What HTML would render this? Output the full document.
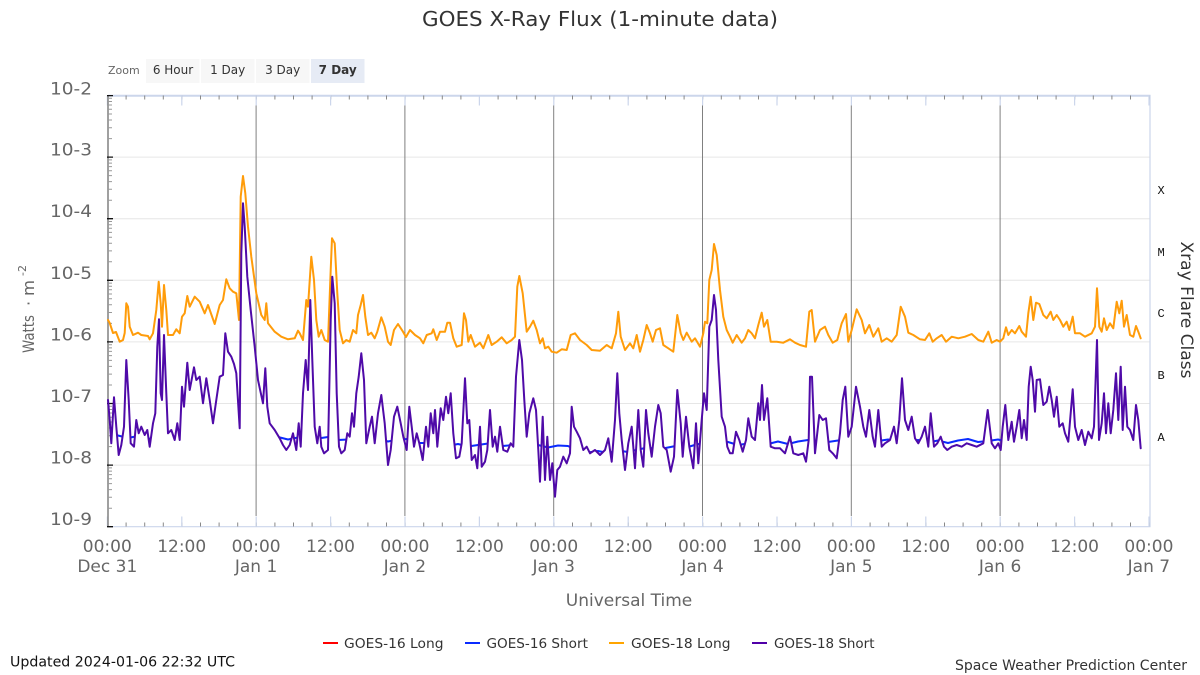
<!DOCTYPE html>
<html><head><meta charset="utf-8"><style>
html,body{margin:0;padding:0;background:#fff;}
svg{display:block;font-family:"DejaVu Sans","Liberation Sans",sans-serif;}
</style></head><body>
<svg width="1200" height="675" viewBox="0 0 1200 675" xmlns="http://www.w3.org/2000/svg">
<defs>
<clipPath id="bclip"><path d="M108,400 L109.7,420 L111.3,443.3 L114,397.3 L116.3,426.7 L118.7,455 L121.3,445 L124,426.7 L126.3,360 L128.7,400 L130.7,443.3 L134,446.7 L136.3,420 L138.7,433.3 L141.3,426.7 L144.7,435 L147.3,430 L149.7,446.7 L153,423.3 L155.3,413.3 L157.3,346.7 L159,319.3 L160.7,393.3 L162,400 L164,335 L166.3,393.3 L168,433.3 L171.3,430 L174.7,440 L177.3,423.3 L179.7,440 L182,386.7 L184,406.7 L187.3,362.7 L189.7,390 L194,367.3 L196.3,380 L199.7,376.7 L203,403.3 L206.3,378.3 L209.7,400 L213,423.3 L216.3,400 L219.7,376.7 L223,375 L225.3,333.3 L228,351.7 L231.3,356.7 L234,364 L236.3,373.3 L239.7,428.3 L241.3,253.3 L243,203.3 L244.7,226.7 L247.3,276.7 L250.7,310 L254.7,346.7 L258,380 L263,403.3 L265.3,368.3 L267.3,406.7 L269.7,423.3 L274.7,430 L279.7,438.3 L283,445 L286.3,450 L289.7,445 L293,433.3 L296.3,450 L298.7,423.3 L300.7,446.7 L303,393.3 L305.7,360 L308,390 L310.3,300 L312.3,360 L314.7,426.7 L317.3,443.3 L319.7,426.7 L321.3,446.7 L324,453.3 L328,450 L330.7,320 L332.3,276.7 L334.7,303.3 L336.7,393.3 L339,446.7 L341.3,453.3 L344.7,450 L347.3,433.3 L349.7,436.7 L352,413.3 L354,426.7 L356.3,393.3 L358.7,376.7 L361.3,353.3 L364,380 L366.3,443.3 L369.7,426.7 L372,416.7 L374.7,443.3 L378,413.3 L381.3,395 L384.7,423.3 L388,465 L390.7,450 L394,416.7 L397.3,406.7 L400.7,423.3 L403.3,436.7 L406.7,450 L409.3,406.7 L411.7,426.7 L414,446.7 L416.7,433.3 L419.3,443.3 L422.7,460 L426,426.7 L428.3,446.7 L430.7,413.3 L433.3,433.3 L435,410 L437.3,446.7 L440.7,408.3 L443.3,420 L446,396.7 L448.3,413.3 L450.7,393.3 L453.3,433.3 L456,458.3 L459.3,456.7 L461.7,443.3 L465,378.3 L467.3,423.3 L469.3,420 L471.7,460 L475,455 L477.3,468.3 L480,426.7 L481.7,466.7 L485,461.7 L487.3,450 L490,410 L492.7,446.7 L495,436.7 L497.3,451.7 L500,426.7 L503.3,450 L507.3,451.7 L510.7,443.3 L513.3,446.7 L516,376.7 L519.3,340 L522,360 L524.3,400 L526.7,436.7 L529.3,413.3 L533.3,398.3 L536,410 L538.3,450 L540,481.7 L542.7,416.7 L545,480 L547.3,436.7 L550,480 L552.3,463.3 L555,496.7 L557.3,470 L560,466.7 L563.3,456.7 L566.7,463.3 L570,453.3 L571.7,406.7 L574,426.7 L576.7,431.7 L580,438.3 L583.3,450 L586.7,446.7 L590,453.3 L595,450 L600,455 L605,450 L608.3,438.3 L611.7,461.7 L615,420 L617.3,373.3 L619.3,413.3 L621.7,440 L625,470 L628.3,443.3 L631.7,426.7 L635,468.3 L638.3,410 L640.7,450 L643.3,466.7 L646,410 L648.3,433.3 L651.7,456.7 L655,426.7 L658.3,405 L660.7,413.3 L663.3,446.7 L666.7,450 L670.7,471.7 L674,456.7 L677.3,390 L680.7,423.3 L682.7,456.7 L686,416.7 L689.3,446.7 L693.3,468.3 L696,423.3 L698.3,463.3 L701.7,420 L704,393.3 L706.7,410 L709.3,326.7 L711.7,320 L714,295 L716,310 L718.3,360 L721.7,416.7 L725,426.7 L727.3,446.7 L730,453.3 L732.7,453.3 L736,431.7 L739.3,440 L742.7,451.7 L746,440 L748.3,418.3 L751.7,436.7 L755,440 L758.3,403.3 L760,420 L762,385 L764,420 L767.3,398.3 L770.7,446.7 L775,448.3 L780,448.3 L785,453.3 L790,436.7 L793.3,453.3 L798.3,455 L803.3,453.3 L806,461.7 L808.7,440 L810,376.7 L812,376.7 L815,453.3 L819.3,415 L822.7,420 L826,418.3 L829.3,450 L832.7,453.3 L836.7,458.3 L840,433.3 L842.7,400 L845.3,386.7 L848.3,436.7 L851.7,426.7 L856,386.7 L860,406.7 L863.3,426.7 L866,436.7 L869.3,410 L872.7,436.7 L875,446.7 L878.3,410 L881.7,446.7 L885,443.3 L890,440 L894,426.7 L896.7,443.3 L899.3,420 L902,378.3 L905,420 L908.3,430 L911.7,416.7 L915,438.3 L918.3,443.3 L921.7,436.7 L925,426.7 L928.3,446.7 L930.7,413.3 L934,446.7 L937.3,443.3 L940.7,436.7 L944,446.7 L947.3,450 L951.7,446.7 L956.7,445 L961.7,446.7 L966.7,443.3 L971.7,445 L976.7,446.7 L983.3,443.3 L987.7,410 L991.7,443.3 L995,448.3 L998.3,443.3 L1000.7,450 L1002.7,426.7 L1005.3,405 L1008.3,440 L1011.7,421.7 L1014,441.7 L1016.7,426.7 L1019.3,410 L1021.7,438.3 L1024,420 L1026.7,440 L1028.7,386.7 L1030.7,366.7 L1032.7,380 L1035,411.7 L1036.7,380 L1040,379.3 L1043.3,405 L1046.7,401.7 L1049.3,386.7 L1051.7,400 L1054,416.7 L1056.7,396.7 L1059.3,426.7 L1062.7,423.3 L1065,433.3 L1068.3,441.7 L1072.7,389.3 L1075,426.7 L1078.3,440 L1081.7,430 L1085,445 L1088.3,431.7 L1091.7,438.3 L1094,426.7 L1097,340 L1099,440 L1101.7,423.3 L1104,393.3 L1106,433.3 L1108.3,403.3 L1110.7,433.3 L1113.3,410 L1116,373.3 L1118.3,420 L1120.7,366.7 L1122.7,430 L1125,386.7 L1127.3,426.7 L1130,430 L1133.3,440 L1136,405 L1138.3,420 L1140.7,448.3 L1142,90 L106,90 Z"/></clipPath>
</defs>
<rect width="1200" height="675" fill="#fff"/>

<!-- Title -->
<text x="600" y="26" text-anchor="middle" font-size="20" fill="#333" textLength="356" lengthAdjust="spacingAndGlyphs">GOES X-Ray Flux (1-minute data)</text>

<!-- Zoom buttons -->
<text x="108" y="74" font-size="11" fill="#666">Zoom</text>
<rect x="146" y="59" width="53.5" height="24" fill="#f7f7f7"/>
<rect x="201" y="59" width="53.5" height="24" fill="#f7f7f7"/>
<rect x="256" y="59" width="53.5" height="24" fill="#f7f7f7"/>
<rect x="311" y="59" width="53.5" height="24" fill="#e6ebf5"/>
<g font-size="12" fill="#333" text-anchor="middle">
<text x="173" y="74">6 Hour</text>
<text x="227.7" y="74">1 Day</text>
<text x="282.7" y="74">3 Day</text>
<text x="337.7" y="74" font-weight="bold">7 Day</text>
</g>

<!-- gridlines -->
<g stroke="#e6e6e6" stroke-width="1">
<line x1="108" y1="157.1" x2="1150" y2="157.1"/>
<line x1="108" y1="218.7" x2="1150" y2="218.7"/>
<line x1="108" y1="280.3" x2="1150" y2="280.3"/>
<line x1="108" y1="341.9" x2="1150" y2="341.9"/>
<line x1="108" y1="403.5" x2="1150" y2="403.5"/>
<line x1="108" y1="465.1" x2="1150" y2="465.1"/>
</g>

<!-- plot border -->
<g stroke="#ccd6eb" fill="none">
<line x1="108" y1="95.8" x2="1150.5" y2="95.8" stroke-width="2"/>
<line x1="1150" y1="95" x2="1150" y2="527" stroke-width="1.2"/>
<line x1="108" y1="526.7" x2="1150.5" y2="526.7" stroke-width="1.2"/>
</g>

<!-- x ticks -->
<line x1="107" y1="97.5" x2="1150" y2="97.5" stroke="#888" stroke-width="4" stroke-dasharray="1 17.6"/>
<line x1="106.8" y1="100.5" x2="1150" y2="100.5" stroke="#ccd6eb" stroke-width="10" stroke-dasharray="1.2 73.2"/>
<line x1="107" y1="524.5" x2="1150" y2="524.5" stroke="#888" stroke-width="4" stroke-dasharray="1 17.6"/>
<line x1="106.8" y1="521.5" x2="1150" y2="521.5" stroke="#ccd6eb" stroke-width="10" stroke-dasharray="1.2 73.2"/>

<!-- day lines -->
<g stroke="#808080" stroke-width="1">
<line x1="256.1" y1="105.5" x2="256.1" y2="516"/>
<line x1="404.9" y1="105.5" x2="404.9" y2="516"/>
<line x1="553.7" y1="105.5" x2="553.7" y2="516"/>
<line x1="702.5" y1="105.5" x2="702.5" y2="516"/>
<line x1="851.3" y1="105.5" x2="851.3" y2="516"/>
<line x1="1000.1" y1="105.5" x2="1000.1" y2="516"/>
</g>

<!-- left axis -->
<line x1="108" y1="95" x2="108" y2="527" stroke="#888" stroke-width="1.6"/>
<path stroke="#999" stroke-width="1" fill="none" d="
M108,138.6h4M108,127.7h4M108,120h4M108,114h4M108,109.2h4M108,105h4M108,101.5h4M108,98.3h4
M108,200.2h4M108,189.3h4M108,181.6h4M108,175.6h4M108,170.8h4M108,166.6h4M108,163.1h4M108,159.9h4
M108,261.8h4M108,250.9h4M108,243.2h4M108,237.2h4M108,232.4h4M108,228.2h4M108,224.7h4M108,221.5h4
M108,323.4h4M108,312.5h4M108,304.8h4M108,298.8h4M108,294h4M108,289.8h4M108,286.3h4M108,283.1h4
M108,385h4M108,374.1h4M108,366.4h4M108,360.4h4M108,355.6h4M108,351.4h4M108,347.9h4M108,344.7h4
M108,446.6h4M108,435.7h4M108,428h4M108,422h4M108,417.2h4M108,413h4M108,409.5h4M108,406.3h4
M108,508.2h4M108,497.3h4M108,489.6h4M108,483.6h4M108,478.8h4M108,474.6h4M108,471.1h4M108,467.9h4"/>
<path stroke="#111" stroke-width="1.3" fill="none" d="M107,95.6h6M107,157.1h6M107,218.7h6M107,280.3h6M107,341.9h6M107,403.5h6M107,465.1h6M107,526.7h6"/>

<!-- y labels -->
<g font-size="17" fill="#666" text-anchor="end">
<text x="92" y="94.5" textLength="42" lengthAdjust="spacingAndGlyphs">10-2</text>
<text x="92" y="155.6" textLength="42" lengthAdjust="spacingAndGlyphs">10-3</text>
<text x="92" y="217.2" textLength="42" lengthAdjust="spacingAndGlyphs">10-4</text>
<text x="92" y="278.8" textLength="42" lengthAdjust="spacingAndGlyphs">10-5</text>
<text x="92" y="340.4" textLength="42" lengthAdjust="spacingAndGlyphs">10-6</text>
<text x="92" y="402" textLength="42" lengthAdjust="spacingAndGlyphs">10-7</text>
<text x="92" y="463.6" textLength="42" lengthAdjust="spacingAndGlyphs">10-8</text>
<text x="92" y="525.2" textLength="42" lengthAdjust="spacingAndGlyphs">10-9</text>
</g>

<!-- y title -->
<g transform="translate(34,353) rotate(-90)" fill="#666">
<text x="0" y="0" font-size="16" textLength="38" lengthAdjust="spacingAndGlyphs">Watts</text>
<text x="47" y="0" font-size="16">·</text>
<text x="57" y="0" font-size="16" textLength="16" lengthAdjust="spacingAndGlyphs">m</text>
<text x="77" y="-8" font-size="11">-2</text>
</g>

<!-- right flare class labels -->
<g font-family="'Liberation Mono','DejaVu Sans Mono',monospace" font-size="12" fill="#111">
<text x="1157.5" y="194">X</text>
<text x="1157.5" y="256">M</text>
<text x="1157.5" y="317">C</text>
<text x="1157.5" y="379">B</text>
<text x="1157.5" y="441">A</text>
</g>
<text transform="translate(1181,310) rotate(90)" text-anchor="middle" font-size="17" fill="#333" textLength="137" lengthAdjust="spacingAndGlyphs">Xray Flare Class</text>

<!-- x labels -->
<g font-size="17" fill="#666" text-anchor="middle">
<text x="107.3" y="552">00:00</text>
<text x="181.7" y="552">12:00</text>
<text x="256.1" y="552">00:00</text>
<text x="330.5" y="552">12:00</text>
<text x="404.9" y="552">00:00</text>
<text x="479.3" y="552">12:00</text>
<text x="553.7" y="552">00:00</text>
<text x="628.1" y="552">12:00</text>
<text x="702.5" y="552">00:00</text>
<text x="776.9" y="552">12:00</text>
<text x="851.3" y="552">00:00</text>
<text x="925.7" y="552">12:00</text>
<text x="1000.1" y="552">00:00</text>
<text x="1074.5" y="552">12:00</text>
<text x="1148.9" y="552">00:00</text>
<text x="107.3" y="572">Dec 31</text>
<text x="256.1" y="572">Jan 1</text>
<text x="404.9" y="572">Jan 2</text>
<text x="553.7" y="572">Jan 3</text>
<text x="702.5" y="572">Jan 4</text>
<text x="851.3" y="572">Jan 5</text>
<text x="1000.1" y="572">Jan 6</text>
<text x="1148.9" y="572">Jan 7</text>
<text x="629" y="606">Universal Time</text>
</g>

<!-- series -->
<g fill="none" stroke-width="2" stroke-linejoin="round" stroke-linecap="round">
<!-- GOES-16 Short (blue floor, visible where GOES-18 short dips below) -->
<path clip-path="url(#bclip)" stroke="#0a2bff" d="M108,437 L118,435.5 L128,438 L138,436 L148,439 L158,437 L168,435.5 L178,438.5 L188,437.5 L198,436 L208,438.5 L218,436.5 L228,439 L238,437.5 L248,436 L258,439 L268,438 L278,437 L288,439.5 L298,437.5 L308,440 L318,438.5 L328,437 L338,440 L348,439.5 L358,438 L368,440.5 L378,438.5 L388,441.5 L398,439.5 L408,439 L418,443 L428,443 L438,442.5 L448,446 L458,444 L468,446.5 L478,445 L488,443.5 L498,446.5 L508,445.5 L518,444 L528,446.5 L538,445 L548,447.5 L558,445.5 L568,446 L578,451 L588,452.5 L598,451 L608,453 L618,450.5 L628,452 L638,449.5 L648,447.5 L658,449.5 L668,447.5 L678,445.5 L688,447 L698,444 L708,446 L718,444 L728,442 L738,445 L748,443.5 L758,442 L768,444 L778,441.5 L788,444 L798,441.5 L808,440 L818,443 L828,442 L838,440.5 L848,443 L858,440.5 L868,443 L878,441 L888,439.5 L898,442.5 L908,441.5 L918,440 L928,442.5 L938,440.5 L948,443 L958,440.5 L968,439 L978,442 L988,441 L998,439.5 L1008,442 L1018,440 L1028,442 L1038,440 L1048,438.5 L1058,441.5 L1068,440.5 L1078,439 L1088,441.5 L1098,439 L1108,441.5 L1118,439.5 L1128,438 L1138,441 L1140.7,440"/>
<!-- GOES-18 Long -->
<path stroke="#ff9c0a" d="M108,320 L109.7,323 L113,333 L116,332 L119.7,341.7 L123,340 L124.7,333 L126.3,303.3 L128,306.7 L129.7,326.7 L133,335 L138,332.7 L141.3,335 L148,336 L149.7,339.3 L153,333.3 L156.3,310 L158.7,281.7 L160.7,303.3 L162,326.7 L164,285 L166.3,310 L168,335 L173,335 L176.3,329.3 L179.7,333.3 L182,316.7 L184.7,313.3 L187.3,296 L189.7,306.7 L194.7,296.7 L199.7,301.7 L204.7,313.3 L208,305 L214.7,324 L219.7,305 L223,300 L226.3,279.3 L229.7,288.3 L233,291.7 L236.3,293.3 L239,320 L240.7,196.7 L243,176 L245.3,193.3 L248,226.7 L251.3,256.7 L256.3,293.3 L261.3,315 L264.7,320 L266.3,303.3 L268,323.3 L274.7,331.7 L281.3,336.7 L288,339.3 L294.7,338.3 L298,330.7 L299.7,333.3 L303,340 L306.3,300 L308,306.7 L311.3,256.7 L314,280 L316.3,320 L318.7,336.7 L321.3,330 L324.7,340 L328,341.7 L330.7,270 L332,238.3 L334.7,243.3 L337.3,293.3 L339.7,330 L343,343.3 L346.3,340 L349.7,341.7 L353,330 L356.3,333.3 L358,315 L360.7,305 L363,295 L365.3,316.7 L368,335 L371.3,332.7 L374.7,338.3 L377.3,331.7 L381.3,317.3 L384.7,326.7 L388,341.7 L390.7,345 L394,330 L398,324 L403,331.7 L406,337 L410,330 L415,335 L420,338.3 L423.3,343.3 L426.7,335 L431.7,333.3 L433.3,329.3 L436.7,340 L440,331.7 L445,331.7 L447.3,322.7 L450,322.7 L453.3,338.3 L456.7,346.7 L461.7,345 L464,313.3 L466,320 L468.3,341.7 L470.7,335 L475,346.7 L480,342.7 L483.3,348.3 L488.3,335 L491.7,345 L496.7,341.7 L501.7,337.3 L506.7,343.3 L511.7,340 L515,336.7 L517.3,286.7 L519.3,276 L522.7,293.3 L526.7,331.7 L530,326.7 L533.3,320.7 L536.7,330 L540,343.3 L542.7,338.3 L545,348.3 L548.3,346.7 L551.7,351.7 L556.7,352.7 L561.7,349.3 L566.7,350 L570.7,335 L575,333.3 L580,340 L586.7,345 L591.7,350 L600,350.7 L606.7,345 L611.7,348.3 L616,333.3 L618.3,311.7 L620.7,336.7 L625,350 L630,343.3 L633.3,348.3 L636.7,335 L640,351.7 L643.3,340 L646.7,325 L650,333.3 L652.7,341.7 L656,330 L660,328.3 L663.3,345 L668.3,348.3 L673.3,351.7 L677.3,315 L680.7,333.3 L683.3,340 L686.7,332.7 L691.7,341.7 L695,338.3 L700,346.7 L703.3,333.3 L705,321.7 L707.3,323.3 L709.3,280 L711.7,270 L714,244 L716.7,255 L720,290 L723.3,316.7 L726.7,330 L730,336.7 L732.7,342.7 L736.7,335 L741.7,342.7 L745,338.3 L748.3,330 L751.7,333.3 L755,338.3 L758.3,325 L761.7,312.7 L764,326.7 L767.3,320 L770.7,341.7 L776.7,341.7 L783.3,342.7 L790,339.3 L795,342.7 L800,345 L806,346.7 L809.3,311.7 L811.7,310 L815,341.7 L820,330 L825,326.7 L828.3,335 L832.7,342.7 L837.3,340 L841.7,323.3 L846,314 L848.3,341.7 L851.7,330 L856.7,309.3 L861.7,320 L865,333.3 L869.3,325 L873.3,336.7 L878.3,328.3 L881.7,341.7 L886.7,338.3 L891.7,341.7 L896.7,335 L900.7,306.7 L905,316.7 L908.3,332.7 L913.3,335 L920,339.3 L925,340 L929.3,333.3 L932.7,341.7 L936.7,338.3 L941.7,335 L946,341.7 L951.7,336.7 L958.3,338.3 L965,336.7 L971.7,334 L978.3,340 L983.3,341.7 L988.3,331.7 L991.7,342.7 L996.7,340 L1000,341.7 L1003.3,338.3 L1006,327.3 L1008.3,335 L1011.7,330 L1015,333.3 L1019.3,326 L1021.7,331.7 L1026,336.7 L1028.3,313.3 L1030.7,296.7 L1033.3,320 L1036,302.7 L1039.3,304 L1043.3,315 L1046.7,318.3 L1050.7,311.7 L1053.3,320 L1056.7,315 L1060,320 L1063.3,326.7 L1066.7,321.7 L1069.3,330 L1072.7,316.7 L1075,333.3 L1080,333.3 L1085,336.7 L1091.7,333.3 L1095,326.7 L1097,288.3 L1099.3,326.7 L1101.7,331.7 L1104,318.3 L1106.7,330 L1110,323.3 L1113.3,328.3 L1116.7,301.7 L1119.3,313.3 L1121.7,300.7 L1124,326.7 L1126.7,315 L1130,335 L1133.3,336.7 L1136,326 L1138.3,331.7 L1140.7,338.3"/>
<!-- GOES-18 Short -->
<path stroke="#4f0aa8" d="M108,400 L109.7,420 L111.3,443.3 L114,397.3 L116.3,426.7 L118.7,455 L121.3,445 L124,426.7 L126.3,360 L128.7,400 L130.7,443.3 L134,446.7 L136.3,420 L138.7,433.3 L141.3,426.7 L144.7,435 L147.3,430 L149.7,446.7 L153,423.3 L155.3,413.3 L157.3,346.7 L159,319.3 L160.7,393.3 L162,400 L164,335 L166.3,393.3 L168,433.3 L171.3,430 L174.7,440 L177.3,423.3 L179.7,440 L182,386.7 L184,406.7 L187.3,362.7 L189.7,390 L194,367.3 L196.3,380 L199.7,376.7 L203,403.3 L206.3,378.3 L209.7,400 L213,423.3 L216.3,400 L219.7,376.7 L223,375 L225.3,333.3 L228,351.7 L231.3,356.7 L234,364 L236.3,373.3 L239.7,428.3 L241.3,253.3 L243,203.3 L244.7,226.7 L247.3,276.7 L250.7,310 L254.7,346.7 L258,380 L263,403.3 L265.3,368.3 L267.3,406.7 L269.7,423.3 L274.7,430 L279.7,438.3 L283,445 L286.3,450 L289.7,445 L293,433.3 L296.3,450 L298.7,423.3 L300.7,446.7 L303,393.3 L305.7,360 L308,390 L310.3,300 L312.3,360 L314.7,426.7 L317.3,443.3 L319.7,426.7 L321.3,446.7 L324,453.3 L328,450 L330.7,320 L332.3,276.7 L334.7,303.3 L336.7,393.3 L339,446.7 L341.3,453.3 L344.7,450 L347.3,433.3 L349.7,436.7 L352,413.3 L354,426.7 L356.3,393.3 L358.7,376.7 L361.3,353.3 L364,380 L366.3,443.3 L369.7,426.7 L372,416.7 L374.7,443.3 L378,413.3 L381.3,395 L384.7,423.3 L388,465 L390.7,450 L394,416.7 L397.3,406.7 L400.7,423.3 L403.3,436.7 L406.7,450 L409.3,406.7 L411.7,426.7 L414,446.7 L416.7,433.3 L419.3,443.3 L422.7,460 L426,426.7 L428.3,446.7 L430.7,413.3 L433.3,433.3 L435,410 L437.3,446.7 L440.7,408.3 L443.3,420 L446,396.7 L448.3,413.3 L450.7,393.3 L453.3,433.3 L456,458.3 L459.3,456.7 L461.7,443.3 L465,378.3 L467.3,423.3 L469.3,420 L471.7,460 L475,455 L477.3,468.3 L480,426.7 L481.7,466.7 L485,461.7 L487.3,450 L490,410 L492.7,446.7 L495,436.7 L497.3,451.7 L500,426.7 L503.3,450 L507.3,451.7 L510.7,443.3 L513.3,446.7 L516,376.7 L519.3,340 L522,360 L524.3,400 L526.7,436.7 L529.3,413.3 L533.3,398.3 L536,410 L538.3,450 L540,481.7 L542.7,416.7 L545,480 L547.3,436.7 L550,480 L552.3,463.3 L555,496.7 L557.3,470 L560,466.7 L563.3,456.7 L566.7,463.3 L570,453.3 L571.7,406.7 L574,426.7 L576.7,431.7 L580,438.3 L583.3,450 L586.7,446.7 L590,453.3 L595,450 L600,455 L605,450 L608.3,438.3 L611.7,461.7 L615,420 L617.3,373.3 L619.3,413.3 L621.7,440 L625,470 L628.3,443.3 L631.7,426.7 L635,468.3 L638.3,410 L640.7,450 L643.3,466.7 L646,410 L648.3,433.3 L651.7,456.7 L655,426.7 L658.3,405 L660.7,413.3 L663.3,446.7 L666.7,450 L670.7,471.7 L674,456.7 L677.3,390 L680.7,423.3 L682.7,456.7 L686,416.7 L689.3,446.7 L693.3,468.3 L696,423.3 L698.3,463.3 L701.7,420 L704,393.3 L706.7,410 L709.3,326.7 L711.7,320 L714,295 L716,310 L718.3,360 L721.7,416.7 L725,426.7 L727.3,446.7 L730,453.3 L732.7,453.3 L736,431.7 L739.3,440 L742.7,451.7 L746,440 L748.3,418.3 L751.7,436.7 L755,440 L758.3,403.3 L760,420 L762,385 L764,420 L767.3,398.3 L770.7,446.7 L775,448.3 L780,448.3 L785,453.3 L790,436.7 L793.3,453.3 L798.3,455 L803.3,453.3 L806,461.7 L808.7,440 L810,376.7 L812,376.7 L815,453.3 L819.3,415 L822.7,420 L826,418.3 L829.3,450 L832.7,453.3 L836.7,458.3 L840,433.3 L842.7,400 L845.3,386.7 L848.3,436.7 L851.7,426.7 L856,386.7 L860,406.7 L863.3,426.7 L866,436.7 L869.3,410 L872.7,436.7 L875,446.7 L878.3,410 L881.7,446.7 L885,443.3 L890,440 L894,426.7 L896.7,443.3 L899.3,420 L902,378.3 L905,420 L908.3,430 L911.7,416.7 L915,438.3 L918.3,443.3 L921.7,436.7 L925,426.7 L928.3,446.7 L930.7,413.3 L934,446.7 L937.3,443.3 L940.7,436.7 L944,446.7 L947.3,450 L951.7,446.7 L956.7,445 L961.7,446.7 L966.7,443.3 L971.7,445 L976.7,446.7 L983.3,443.3 L987.7,410 L991.7,443.3 L995,448.3 L998.3,443.3 L1000.7,450 L1002.7,426.7 L1005.3,405 L1008.3,440 L1011.7,421.7 L1014,441.7 L1016.7,426.7 L1019.3,410 L1021.7,438.3 L1024,420 L1026.7,440 L1028.7,386.7 L1030.7,366.7 L1032.7,380 L1035,411.7 L1036.7,380 L1040,379.3 L1043.3,405 L1046.7,401.7 L1049.3,386.7 L1051.7,400 L1054,416.7 L1056.7,396.7 L1059.3,426.7 L1062.7,423.3 L1065,433.3 L1068.3,441.7 L1072.7,389.3 L1075,426.7 L1078.3,440 L1081.7,430 L1085,445 L1088.3,431.7 L1091.7,438.3 L1094,426.7 L1097,340 L1099,440 L1101.7,423.3 L1104,393.3 L1106,433.3 L1108.3,403.3 L1110.7,433.3 L1113.3,410 L1116,373.3 L1118.3,420 L1120.7,366.7 L1122.7,430 L1125,386.7 L1127.3,426.7 L1130,430 L1133.3,440 L1136,405 L1138.3,420 L1140.7,448.3"/>
</g>

<!-- legend -->
<g stroke-width="2">
<line x1="323" y1="643" x2="338" y2="643" stroke="#ff0000"/>
<line x1="465" y1="643" x2="480" y2="643" stroke="#0a2bff"/>
<line x1="609" y1="643" x2="624" y2="643" stroke="#ffa500"/>
<line x1="752" y1="643" x2="767" y2="643" stroke="#5000a8"/>
</g>
<g font-size="13.5" fill="#333">
<text x="344" y="648" textLength="99.5" lengthAdjust="spacingAndGlyphs">GOES-16 Long</text>
<text x="486.5" y="648" textLength="101.4" lengthAdjust="spacingAndGlyphs">GOES-16 Short</text>
<text x="631" y="648" textLength="99.5" lengthAdjust="spacingAndGlyphs">GOES-18 Long</text>
<text x="774" y="648" textLength="100.5" lengthAdjust="spacingAndGlyphs">GOES-18 Short</text>
</g>

<!-- footer -->
<text x="10" y="666.5" font-size="14" fill="#111" textLength="225" lengthAdjust="spacingAndGlyphs">Updated 2024-01-06 22:32 UTC</text>
<text x="955" y="670" font-size="14" fill="#333" textLength="232" lengthAdjust="spacingAndGlyphs">Space Weather Prediction Center</text>
</svg>
</body></html>
